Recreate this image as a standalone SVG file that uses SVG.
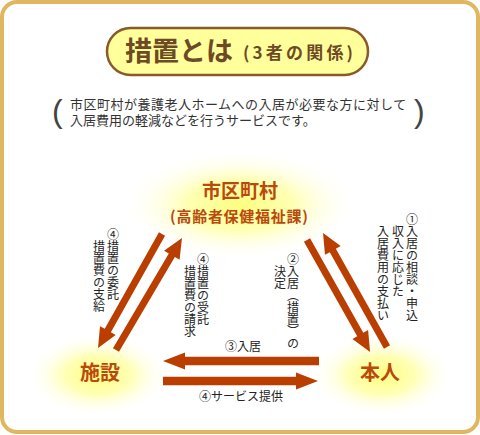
<svg xmlns="http://www.w3.org/2000/svg" width="480" height="435" viewBox="0 0 480 435">
<defs>
<radialGradient id="glow">
<stop offset="0" stop-color="#ffff80" stop-opacity="1"/>
<stop offset="0.45" stop-color="#ffff99" stop-opacity="0.75"/>
<stop offset="1" stop-color="#ffffff" stop-opacity="0"/>
</radialGradient>
<style>
.jp{font-family:"Noto Sans CJK JP","Noto Sans",sans-serif;}
.lbl{font-size:12px;fill:#222;}
.vt{writing-mode:vertical-rl;text-orientation:upright;}
.node{font-weight:bold;fill:#b94a0c;text-anchor:middle;}
.arr{fill:#b93e00;}
</style>
</defs>
<rect x="0" y="0" width="480" height="435" fill="#ffffff"/>
<rect x="2" y="2" width="476" height="430" rx="15" ry="15" fill="#ffffff" stroke="#e1b660" stroke-width="4"/>

<g id="title">
<rect x="107" y="28" width="261" height="47" rx="23.5" ry="23.5" fill="#ffff9c" stroke="#8a5a2a" stroke-width="2.5"/>
<text class="jp" x="125" y="61" font-size="27" font-weight="bold" fill="#6e4a24" textLength="108" lengthAdjust="spacingAndGlyphs">措置とは</text>
<text class="jp" x="243" y="59" font-size="17" font-weight="bold" fill="#6e4a24" textLength="110" lengthAdjust="spacing">(3者の関係)</text>
</g>

<g id="description">
<text x="52" y="122" font-family="Liberation Sans, sans-serif" font-size="32" fill="#444">(</text>
<text x="414" y="122" font-family="Liberation Sans, sans-serif" font-size="32" fill="#444">)</text>
<text class="jp" font-size="13" fill="#333"><tspan x="70" y="109" letter-spacing="0.5">市区町村が養護老人ホームへの入居が必要な方に対して</tspan><tspan x="70" y="125">入居費用の軽減などを行うサービスです。</tspan></text>
</g>

<g id="glows">
<ellipse cx="240" cy="205" rx="118" ry="55" fill="url(#glow)"/>
<ellipse cx="98" cy="375" rx="72" ry="42" fill="url(#glow)"/>
<ellipse cx="382" cy="375" rx="72" ry="42" fill="url(#glow)"/>
</g>

<g id="node-city">
<text class="jp node" x="240" y="198" font-size="19">市区町村</text>
<text class="jp node" x="239" y="222" font-size="15" textLength="138" lengthAdjust="spacing">(高齢者保健福祉課)</text>
</g>
<g id="node-facility">
<text class="jp node" x="100" y="380" font-size="20">施設</text>
</g>
<g id="node-person">
<text class="jp node" x="380" y="380" font-size="20">本人</text>
</g>

<g id="connectors">
<polygon class="arr" transform="translate(162,234) rotate(119.3)" points="0,-3.5 110.7,-3.5 110.7,-9 130.7,0 110.7,9 110.7,3.5 0,3.5"/>
<polygon class="arr" transform="translate(116,350) rotate(-59.5)" points="0,-3.5 110,-3.5 110,-9 130,0 110,9 110,3.5 0,3.5"/>
<polygon class="arr" transform="translate(307,240) rotate(60.6)" points="0,-3.5 108.5,-3.5 108.5,-9 128.5,0 108.5,9 108.5,3.5 0,3.5"/>
<polygon class="arr" transform="translate(387,347) rotate(-119.3)" points="0,-3.5 110.7,-3.5 110.7,-9 130.7,0 110.7,9 110.7,3.5 0,3.5"/>
<polygon class="arr" transform="translate(319,361) rotate(180)" points="0,-4.2 134,-4.2 134,-8.5 156,0 134,8.5 134,4.2 0,4.2"/>
<polygon class="arr" transform="translate(163,381)" points="0,-4.2 133,-4.2 133,-8.5 155,0 133,8.5 133,4.2 0,4.2"/>
</g>

<g id="labels">
<text class="jp lbl vt" x="113" y="228">④措置の委託</text>
<text class="jp lbl vt" x="99" y="240">措置費の支給</text>
<text class="jp lbl vt" x="203" y="253">④措置の受託</text>
<text class="jp lbl vt" x="190" y="265">措置費の請求</text>
<text class="jp lbl vt" x="293" y="253">②入居︵措置︶の</text>
<text class="jp lbl vt" x="280" y="265">決定</text>
<text class="jp lbl vt" x="412" y="213">①入居の相談・申込</text>
<text class="jp lbl vt" x="398" y="225">収入に応じた</text>
<text class="jp lbl vt" x="383" y="225">入居費用の支払い</text>
<text class="jp lbl" x="243" y="351" text-anchor="middle">③入居</text>
<text class="jp lbl" x="241" y="401" text-anchor="middle">④サービス提供</text>
</g>
</svg>
